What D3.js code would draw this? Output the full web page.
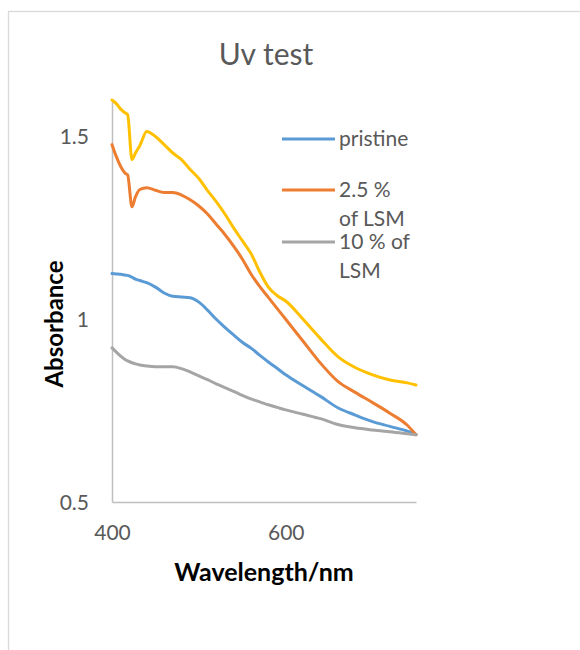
<!DOCTYPE html>
<html>
<head>
<meta charset="utf-8">
<script src="https://cdn.jsdelivr.net/npm/d3@7"></script>
<style>
  body { margin: 0; background: #fff; }
  text { font-family: Lato, "Open Sans", sans-serif; }
</style>
</head>
<body>
<div id="my_dataviz"></div>
<script>
// wavelengths (nm) shared by all series
var wavelength = [400, 405, 410, 415, 418, 423, 427, 432, 440, 450, 460, 470, 480, 490, 500, 510, 520, 530, 540, 550, 560, 570, 580, 590, 600, 620, 640, 660, 680, 700, 720, 740, 750];

var pristine = [1.125, 1.124, 1.123, 1.121, 1.12, 1.115, 1.11, 1.106, 1.10, 1.088, 1.072, 1.063, 1.061, 1.059, 1.047, 1.025, 1.0, 0.978, 0.957, 0.937, 0.921, 0.902, 0.883, 0.866, 0.848, 0.818, 0.789, 0.758, 0.738, 0.72, 0.707, 0.694, 0.685];
var lsm25 = [1.478, 1.445, 1.418, 1.40, 1.395, 1.308, 1.335, 1.355, 1.36, 1.353, 1.347, 1.347, 1.34, 1.327, 1.31, 1.288, 1.26, 1.232, 1.20, 1.165, 1.124, 1.09, 1.06, 1.03, 1.0, 0.94, 0.88, 0.83, 0.80, 0.772, 0.743, 0.71, 0.684];
var lsm10 = [0.922, 0.91, 0.899, 0.89, 0.886, 0.881, 0.878, 0.875, 0.872, 0.870, 0.870, 0.870, 0.865, 0.856, 0.845, 0.835, 0.823, 0.813, 0.803, 0.792, 0.782, 0.774, 0.766, 0.759, 0.752, 0.740, 0.728, 0.712, 0.703, 0.697, 0.692, 0.687, 0.684];
var extra = [1.60, 1.59, 1.575, 1.565, 1.56, 1.437, 1.455, 1.475, 1.514, 1.50, 1.478, 1.455, 1.437, 1.41, 1.385, 1.352, 1.322, 1.288, 1.25, 1.215, 1.18, 1.13, 1.088, 1.065, 1.05, 1.0, 0.947, 0.898, 0.868, 0.848, 0.834, 0.826, 0.82];

var seriesNames = ["pristine", "2.5 % of LSM", "10 % of LSM", ""];
var seriesColors = ["#5B9BD5", "#ED7D31", "#A5A5A5", "#FFC000"];
var xTicks = [400, 600];
var yTicks = [0.5, 1, 1.5];

var W = 580, H = 650;
// plot box ("top" is taken by window.top, so use pl* names)
var plLeft = 112, plRight = 416, plTop = 100, plBottom = 502;

var svg = d3.select("#my_dataviz")
  .append("svg")
  .attr("width", W)
  .attr("height", H);

// chart frame (runs off the page like the original)
svg.append("rect")
  .attr("x", 8.5).attr("y", 11.5)
  .attr("width", 700).attr("height", 800)
  .attr("fill", "none")
  .attr("stroke", "#D9D9D9")
  .attr("stroke-width", 1.3);

var x = d3.scaleLinear().domain([400, 750]).range([plLeft, plRight]);
var y = d3.scaleLinear().domain([0.5, 1.6]).range([plBottom, plTop]);

// axes
var xAxis = svg.append("g")
  .attr("transform", "translate(0," + plBottom + ")")
  .call(d3.axisBottom(x).tickValues(xTicks).tickSize(0).tickSizeOuter(0).tickFormat(d3.format("d")));
xAxis.select(".domain").attr("stroke", "#BFBFBF").attr("stroke-width", 1.5);
xAxis.selectAll("text")
  .attr("y", 38).attr("dy", 0)
  .attr("fill", "#595959")
  .style("font-size", "21px");

var yAxis = svg.append("g")
  .attr("transform", "translate(" + plLeft + ",0)")
  .call(d3.axisLeft(y).tickValues(yTicks).tickSize(0).tickSizeOuter(0).tickFormat(function(d) { return d; }));
yAxis.select(".domain").attr("stroke", "#BFBFBF").attr("stroke-width", 1.5);
yAxis.selectAll("text")
  .attr("x", -23)
  .attr("dy", "0.35em")
  .attr("fill", "#595959")
  .style("font-size", "21px");

// lines, drawn in series order
var allSeries = [pristine, lsm25, lsm10, extra];
var line = d3.line()
  .curve(d3.curveMonotoneX)
  .x(function(d, i) { return x(wavelength[i]); })
  .y(function(d) { return y(d); });

svg.append("g")
  .selectAll("path")
  .data(allSeries)
  .enter()
  .append("path")
  .attr("fill", "none")
  .attr("stroke", function(d, i) { return seriesColors[i]; })
  .attr("stroke-width", 3)
  .attr("stroke-linejoin", "round")
  .attr("stroke-linecap", "round")
  .attr("d", line);

// title
svg.append("text")
  .attr("x", 266).attr("y", 65)
  .attr("text-anchor", "middle")
  .attr("fill", "#595959")
  .style("font-size", "30px")
  .text("Uv test");

// axis titles
svg.append("text")
  .attr("x", (plLeft + plRight) / 2).attr("y", 581)
  .attr("text-anchor", "middle")
  .attr("fill", "#000")
  .style("font-size", "25px")
  .style("font-weight", "bold")
  .text("Wavelength/nm");

svg.append("text")
  .attr("transform", "translate(63,324) rotate(-90)")
  .attr("text-anchor", "middle")
  .attr("fill", "#000")
  .style("font-size", "24px")
  .style("font-weight", "bold")
  .text("Absorbance");

// legend (only the three named series)
var legendLines = [["pristine"], ["2.5 %", "of LSM"], ["10 % of", "LSM"]];
var legendY = [139, 190, 242];
var legend = svg.append("g");
legendLines.forEach(function(lines, i) {
  legend.append("line")
    .attr("x1", 282).attr("x2", 335)
    .attr("y1", legendY[i]).attr("y2", legendY[i])
    .attr("stroke", seriesColors[i])
    .attr("stroke-width", 3);
  lines.forEach(function(t, j) {
    legend.append("text")
      .attr("x", 339)
      .attr("y", legendY[i] + j * 29)
      .attr("dy", "0.35em")
      .attr("fill", "#595959")
      .style("font-size", "21px")
      .text(t);
  });
});
</script>
</body>
</html>
